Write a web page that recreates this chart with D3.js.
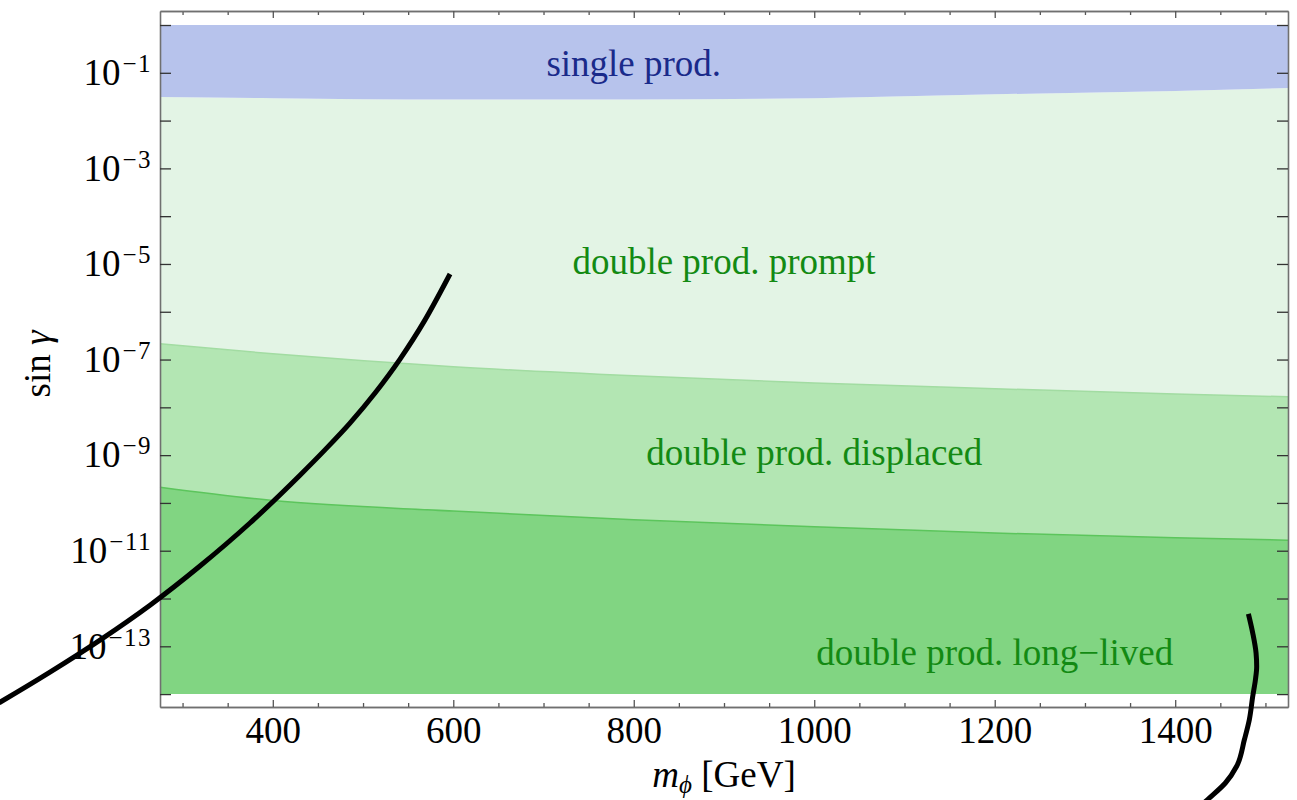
<!DOCTYPE html>
<html>
<head>
<meta charset="utf-8">
<script src="https://cdn.jsdelivr.net/npm/d3@7"></script>
<style>
    body { margin: 0; background: #fff; }
    svg { display: block; font-family: "Liberation Serif", "DejaVu Serif", serif; }
</style>
</head>
<body>
<script>
// Region boundaries as log10(sin gamma) at each mass
const massGrid = [275, 400, 600, 800, 1000, 1200, 1400, 1525];
const singleLow = [-1.506, -1.53, -1.56, -1.56, -1.53, -1.45, -1.38, -1.32];
const displacedTop = [-6.67, -6.88, -7.15, -7.34, -7.49, -7.61, -7.72, -7.78];
const longLivedTop = [-9.67, -9.95, -10.17, -10.35, -10.50, -10.63, -10.73, -10.78];
const singleTopExp = 0;
const floorExp = -14;

// Black curves (mass, log10 sin gamma)
const leftMass = [42.3, 97.7, 153.1, 208.5, 263.9, 319.3, 374.7, 430.1, 457.8, 485.5, 513.3, 541.0, 568.7, 596.4];
const leftExp = [-14.77, -14.17, -13.54, -12.87, -12.14, -11.32, -10.42, -9.42, -8.89, -8.33, -7.70, -6.99, -6.17, -5.21];
const rightMass = [1481.1, 1485.9, 1489.6, 1490.3, 1488.9, 1485.9, 1482.2, 1476.7, 1468.1, 1455.6, 1435.7, 1423.5];
const rightExp = [-12.32, -12.72, -13.14, -13.42, -13.70, -14.05, -14.53, -14.95, -15.51, -15.86, -16.21, -16.42];

// Region labels
const labelText = ['single prod.', 'double prod. prompt', 'double prod. displaced', 'double prod. long\u2212lived'];
const labelMass = [800, 900, 1000, 1200];
const labelExp = [-1.07, -5.21, -9.2, -13.4];
const labelColor = ['#1a2a8a', '#138a13', '#138a13', '#138a13'];

// Ticks
const xMajor = [400, 600, 800, 1000, 1200, 1400];
const xMinor = d3.range(300, 1525, 50).filter(v => v % 200 !== 0);
const yTickExps = d3.range(0, -15, -1);

const width = 1297;
const height = 800;
const fontSize = 37;

const svg = d3.select('body').append('svg')
    .attr('width', width)
    .attr('height', height);

const x = d3.scaleLinear().domain([275, 1525]).range([160, 1288]);
const y = d3.scaleLog().domain([Math.pow(10, -14.27), Math.pow(10, 0.293)]).range([707, 11]);
const yE = e => y(Math.pow(10, e));

// Filled regions
const band = (top, bottom) => d3.area()
    .x((d, i) => x(massGrid[i]))
    .y0((d, i) => yE(bottom(i)))
    .y1((d, i) => yE(top(i)))
    .curve(d3.curveMonotoneX)(massGrid);

svg.append('path')
    .attr('d', band(i => singleLow[i], () => floorExp))
    .attr('fill', '#e3f4e5');

svg.append('path')
    .attr('d', band(() => singleTopExp, i => singleLow[i]))
    .attr('fill', '#b7c3ec');

svg.append('path')
    .attr('d', band(i => displacedTop[i], () => floorExp))
    .attr('fill', '#b3e6b3');

svg.append('path')
    .attr('d', band(i => longLivedTop[i], () => floorExp))
    .attr('fill', '#81d582');

// Edge lines on top of the green bands
const edge = vals => d3.line()
    .x((d, i) => x(massGrid[i]))
    .y((d, i) => yE(vals[i]))
    .curve(d3.curveMonotoneX)(massGrid);

svg.append('path')
    .attr('d', edge(displacedTop))
    .attr('fill', 'none')
    .attr('stroke', '#a2dca2')
    .attr('stroke-width', 1.5);

svg.append('path')
    .attr('d', edge(longLivedTop))
    .attr('fill', 'none')
    .attr('stroke', '#5cc55c')
    .attr('stroke-width', 1.5);

// Axes
function styleAxis(g, tickColor) {
    g.attr('font-family', null).attr('font-size', null);
    g.select('.domain').attr('stroke', '#707070').attr('stroke-width', 1.6);
    g.selectAll('.tick line').attr('stroke', tickColor).attr('stroke-width', 1.3);
    g.selectAll('.tick text').attr('fill', '#000').attr('font-size', fontSize);
}

const bottomMinor = svg.append('g').attr('transform', 'translate(0,707)')
    .call(d3.axisBottom(x).tickValues(xMinor).tickSize(-4).tickSizeOuter(0).tickFormat(''));
styleAxis(bottomMinor, '#555');
const bottomMajor = svg.append('g').attr('transform', 'translate(0,707)')
    .call(d3.axisBottom(x).tickValues(xMajor).tickSize(-7).tickSizeOuter(0).tickPadding(10).tickFormat(d3.format('d')));
styleAxis(bottomMajor, '#555');

const topMinor = svg.append('g').attr('transform', 'translate(0,11)')
    .call(d3.axisTop(x).tickValues(xMinor).tickSize(-4).tickSizeOuter(0).tickFormat(''));
styleAxis(topMinor, '#555');
const topMajor = svg.append('g').attr('transform', 'translate(0,11)')
    .call(d3.axisTop(x).tickValues(xMajor).tickSize(-7).tickSizeOuter(0).tickFormat(''));
styleAxis(topMajor, '#555');

const leftAxis = svg.append('g').attr('transform', 'translate(160,0)')
    .call(d3.axisLeft(y).tickValues(yTickExps.map(e => Math.pow(10, e)))
        .tickSize(-11).tickSizeOuter(0).tickPadding(8).tickFormat(''));
styleAxis(leftAxis, '#333');

// Superscript labels on odd powers only
leftAxis.selectAll('.tick text').each(function(d) {
    const e = Math.round(Math.log10(d));
    const t = d3.select(this);
    if (e % 2 === 0) return;
    t.append('tspan').text('10');
    t.append('tspan')
        .attr('dy', -13)
        .attr('dx', 2)
        .attr('font-size', 25)
        .attr('letter-spacing', 1.5)
        .text('\u2212' + Math.abs(e));
});

const rightAxis = svg.append('g').attr('transform', 'translate(1288,0)')
    .call(d3.axisRight(y).tickValues(yTickExps.map(e => Math.pow(10, e)))
        .tickSize(-11).tickSizeOuter(0).tickFormat(''));
styleAxis(rightAxis, '#333');

// Axis titles
const xTitle = svg.append('text')
    .attr('x', 724)
    .attr('y', 787)
    .attr('text-anchor', 'middle')
    .attr('font-size', fontSize);
xTitle.append('tspan').attr('font-style', 'italic').text('m');
xTitle.append('tspan').attr('font-style', 'italic').attr('font-size', 25).attr('dy', 6).text('\u03d5');
xTitle.append('tspan').attr('dy', -6).text(' [GeV]');

svg.append('text')
    .attr('transform', 'translate(50,364) rotate(-90)')
    .attr('text-anchor', 'middle')
    .attr('font-size', fontSize)
    .text('sin ')
    .append('tspan')
    .attr('font-style', 'italic')
    .text('\u03b3');

// Region labels
svg.selectAll('.region-label')
    .data(labelText)
    .enter()
    .append('text')
    .attr('class', 'region-label')
    .attr('x', (d, i) => x(labelMass[i]))
    .attr('y', (d, i) => yE(labelExp[i]))
    .attr('text-anchor', 'middle')
    .attr('font-size', fontSize)
    .attr('fill', (d, i) => labelColor[i])
    .text(d => d);

// Black curves, not clipped to the frame
const curveLeft = d3.line()
    .x(d => x(d[0]))
    .y(d => yE(d[1]))
    .curve(d3.curveMonotoneX);

const curveRight = d3.line()
    .x(d => x(d[0]))
    .y(d => yE(d[1]))
    .curve(d3.curveMonotoneY);

svg.append('path')
    .attr('d', curveLeft(d3.zip(leftMass, leftExp)))
    .attr('fill', 'none')
    .attr('stroke', '#000')
    .attr('stroke-width', 5);

svg.append('path')
    .attr('d', curveRight(d3.zip(rightMass, rightExp)))
    .attr('fill', 'none')
    .attr('stroke', '#000')
    .attr('stroke-width', 5);
</script>
</body>
</html>
